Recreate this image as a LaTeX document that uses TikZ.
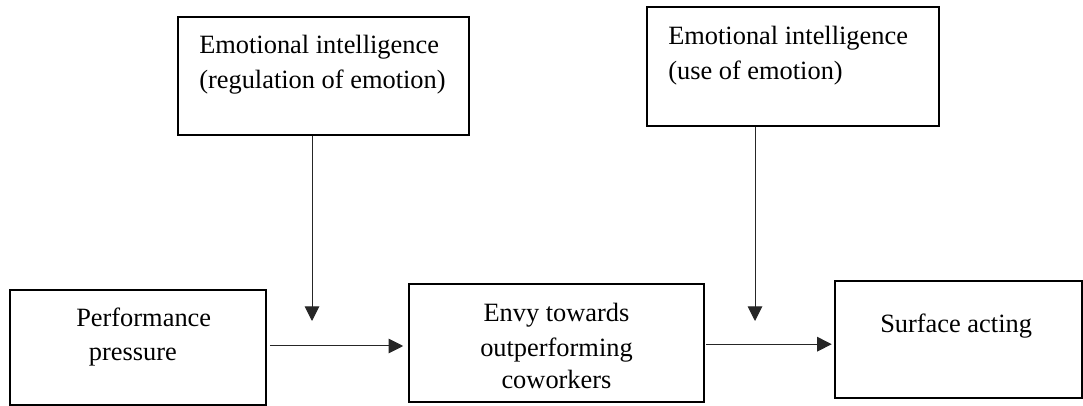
\documentclass[tikz,border=0pt]{standalone}
\usepackage{fontspec}
\setmainfont{Liberation Serif}
\usetikzlibrary{arrows.meta,fit}
\begin{document}
\begin{tikzpicture}[x=0.75pt,y=-0.75pt,
  box/.style={draw=black,line width=1.5pt,inner sep=0pt,rectangle},
  txt/.style={inner sep=0pt,font=\fontsize{19.8}{25.5}\selectfont},
  arr/.style={draw=black!85,line width=0.75pt,-{Triangle[length=11pt,width=11pt]}}]
\useasboundingbox (0,0) rectangle (1083,406);
% boxes
\node[box,fit={(177.5,17)(469,135)}] (reg) {};
\node[box,fit={(646.7,7.3)(939,125.7)}] (use) {};
\node[box,fit={(10,290)(265.7,405)}] (perf) {};
\node[box,fit={(409.3,284.3)(704,401.7)}] (envy) {};
\node[box,fit={(835,281)(1082,398.3)}] (surf) {};
% texts
\node[txt,anchor=base west] (reg1) at (199,53.3) {Emotional intelligence};
\node[txt,anchor=base west] (reg2) at (199,88.3) {(regulation of emotion)};
\node[txt,anchor=base west] (use1) at (668,45) {Emotional intelligence};
\node[txt,anchor=base west] (use2) at (668,79.3) {(use of emotion)};
\node[txt,anchor=base west] (perf1) at (76,326) {Performance};
\node[txt,anchor=base west] (perf2) at (88.7,360) {pressure};
\node[txt,anchor=base] (envy1) at (556.5,321.7) {Envy towards};
\node[txt,anchor=base] (envy2) at (556.5,356) {outperforming};
\node[txt,anchor=base] (envy3) at (556.5,388) {coworkers};
\node[txt,anchor=base west] (surf1) at (880,333) {Surface acting};
% connectors
\coordinate (t1) at (312,321);
\coordinate (t2) at (755,321);
\coordinate (h1) at (0,346);
\coordinate (h2) at (0,344.2);
\draw[arr] (reg.south -| t1) -- (t1);
\draw[arr] (use.south -| t2) -- (t2);
\draw[arr,shorten <=2.3pt,shorten >=3.8pt] (perf.east |- h1) -- (envy.west |- h1);
\draw[arr,shorten <=0.75pt,shorten >=1.7pt] (envy.east |- h2) -- (surf.west |- h2);
\end{tikzpicture}
\end{document}
